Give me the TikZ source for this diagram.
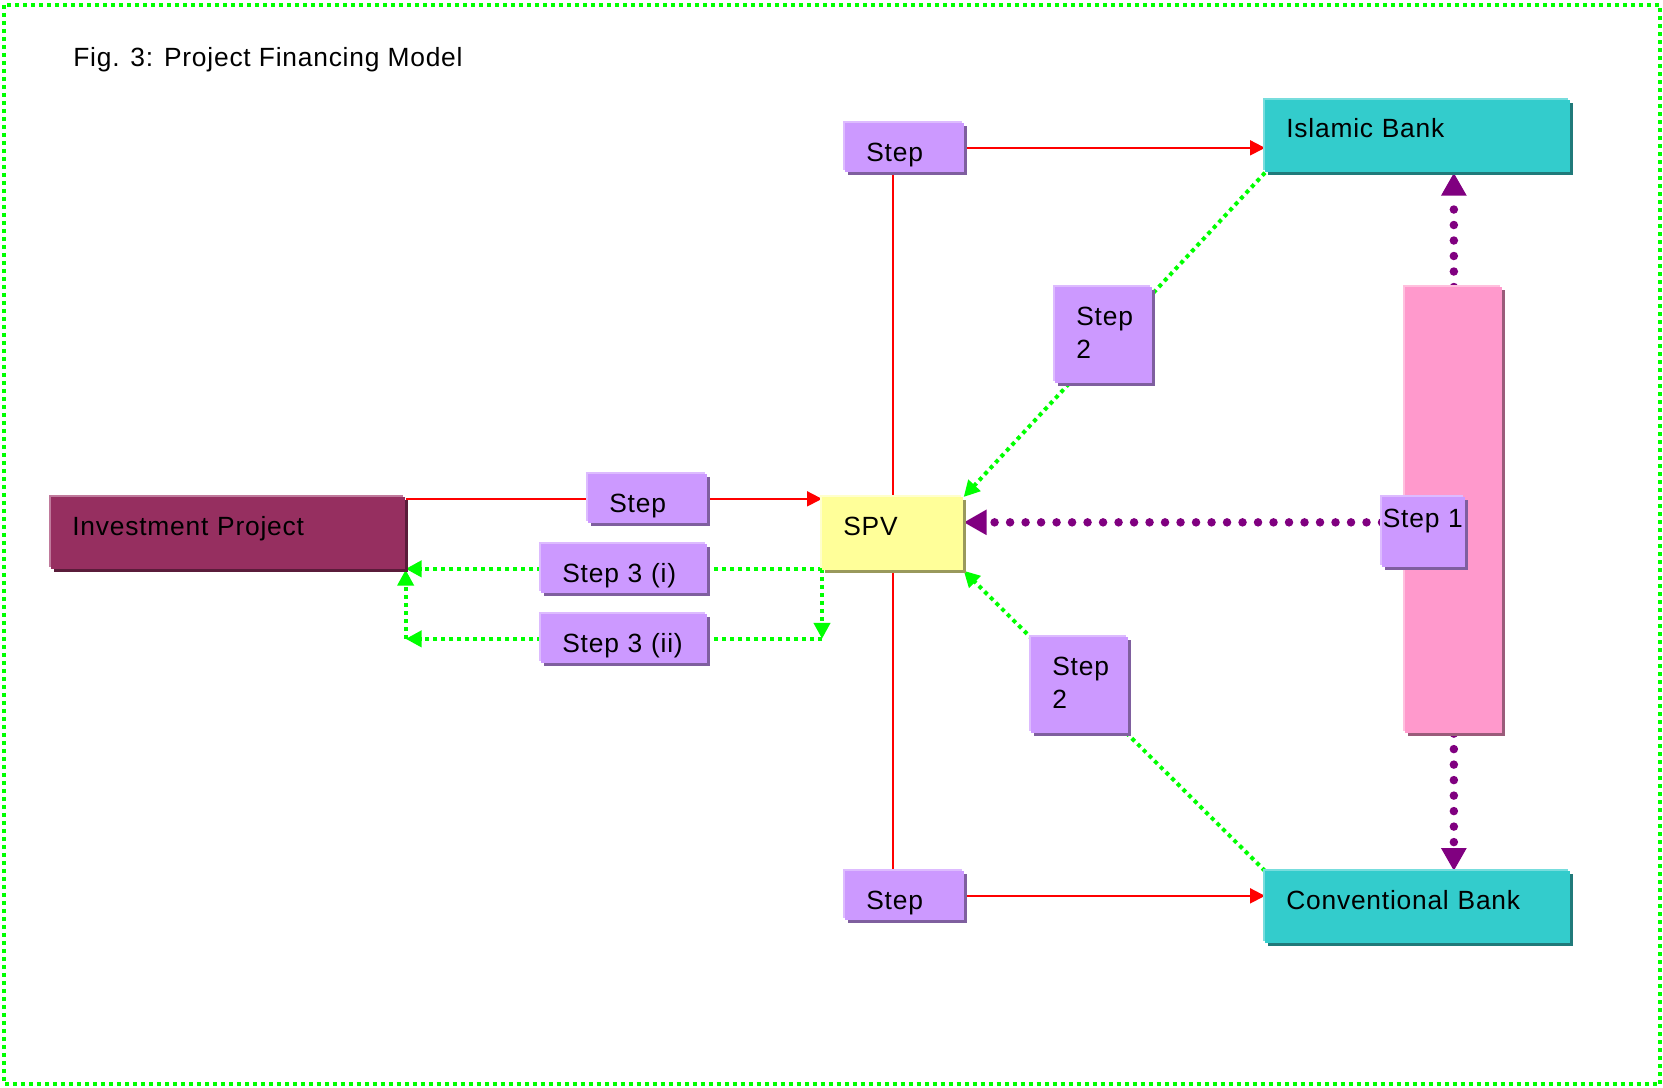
\documentclass[tikz,border=0pt]{standalone}
\usepackage{fontspec}
\setmainfont{Liberation Sans}[LetterSpace=3]
\usepackage{xcolor}
\usepackage{tikz}
\usetikzlibrary{arrows.meta, positioning, backgrounds, shadows}

\definecolor{stepfill}{HTML}{CC99FF}
\definecolor{steplight}{HTML}{DDBBFF}
\definecolor{stepdark}{HTML}{7F5F9F}
\definecolor{bankfill}{HTML}{33CCCC}
\definecolor{banklight}{HTML}{77DDDD}
\definecolor{bankdark}{HTML}{207A7A}
\definecolor{spvfill}{HTML}{FFFF99}
\definecolor{spvlight}{HTML}{FFFFCC}
\definecolor{spvdark}{HTML}{99995C}
\definecolor{projfill}{HTML}{962F60}
\definecolor{projlight}{HTML}{C07A9C}
\definecolor{projdark}{HTML}{5A1C3A}
\definecolor{barfill}{HTML}{FF99CC}
\definecolor{barlight}{HTML}{FFC0DE}
\definecolor{bardark}{HTML}{9A5C7A}
\definecolor{dotgreen}{HTML}{00FF00}
\definecolor{dotpurple}{HTML}{800080}

\begin{document}
\begin{tikzpicture}[
    x=0.02cm, y=-0.02cm,
    title/.style={anchor=base west, inner sep=0pt, font=\fontsize{15}{18.8}\selectfont},
    box/.style={rectangle, anchor=north west, inner xsep=0.42cm, inner ysep=0pt, align=left, text height=0.76cm, font=\fontsize{15}{18.8}\selectfont},
    stepbox/.style={box, fill=stepfill, general shadow={fill=steplight, shadow xshift=-0.04cm, shadow yshift=0.04cm}, drop shadow={fill=stepdark, opacity=1, shadow xshift=0.06cm, shadow yshift=-0.06cm}},
    bankbox/.style={box, fill=bankfill, general shadow={fill=banklight, shadow xshift=-0.04cm, shadow yshift=0.04cm}, drop shadow={fill=bankdark, opacity=1, shadow xshift=0.06cm, shadow yshift=-0.06cm}},
    spvbox/.style={box, fill=spvfill, general shadow={fill=spvlight, shadow xshift=-0.04cm, shadow yshift=0.04cm}, drop shadow={fill=spvdark, opacity=1, shadow xshift=0.06cm, shadow yshift=-0.06cm}},
    projbox/.style={box, fill=projfill, general shadow={fill=projlight, shadow xshift=-0.04cm, shadow yshift=0.04cm}, drop shadow={fill=projdark, opacity=1, shadow xshift=0.06cm, shadow yshift=-0.06cm}},
    pinkbar/.style={rectangle, anchor=north west, inner sep=0pt, fill=barfill, general shadow={fill=barlight, shadow xshift=-0.04cm, shadow yshift=0.04cm}, drop shadow={fill=bardark, opacity=1, shadow xshift=0.06cm, shadow yshift=-0.06cm}},
    redline/.style={draw=red, line width=0.04cm},
    redarrow/.style={redline, -{Triangle[length=0.3cm, width=0.3cm]}},
    greenline/.style={draw=dotgreen, line width=0.08cm, dash pattern=on 0.08cm off 0.08cm},
    greenarrow/.style={greenline, -{Triangle[length=0.32cm, width=0.32cm]}},
    purplearrow/.style={draw=dotpurple, line width=0.17cm, line cap=round, dash pattern=on 0pt off 0.31cm, -{Triangle[length=0.46cm, width=0.48cm]}}
]
\useasboundingbox (0,0) rectangle (1663,1088);

% Frame and title
\draw[greenline] (4,5) rectangle (1660,1084);
\node[title] (title) at (73,67) {Fig. 3: Project Financing Model};

% Banks
\node[bankbox, text width=5.26cm, text height=0.74cm, text depth=0.70cm] (islamic) at (1265,100) {Islamic Bank};
\node[bankbox, text width=5.26cm, text depth=0.68cm] (conv) at (1265,871) {Conventional Bank};

% Project and SPV
\node[projbox, text width=6.24cm, text depth=0.68cm] (invest) at (51,497) {Investment Project};
\node[spvbox, text width=1.98cm, text depth=0.70cm] (spv) at (822,497) {SPV};

% Pink bar with Step 1
\node[pinkbar, minimum width=1.94cm, minimum height=8.92cm] (bar) at (1405,287) {};
\node[stepbox, inner xsep=0.01cm, text width=1.64cm, text height=0.60cm, text depth=0.80cm] (step1) at (1382,497) {Step 1};
\coordinate (s1in) at ([yshift=0.2cm]step1.west);

% Step labels
\node[stepbox, text width=1.54cm, text depth=0.22cm] (stepTop) at (845,123) {Step};
\node[stepbox, text width=1.54cm, text depth=0.22cm] (stepMid) at (588,474) {Step};
\node[stepbox, text width=1.54cm, text depth=0.22cm] (stepBot) at (845,871) {Step};
\node[stepbox, text width=1.10cm, text depth=1.16cm] (step2up) at (1055,287) {Step\\2};
\node[stepbox, text width=1.10cm, text depth=1.16cm] (step2lo) at (1031,637) {Step\\2};
\node[stepbox, text width=2.48cm, text depth=0.22cm] (step3i) at (541,544) {Step 3 (i)};
\node[stepbox, text width=2.48cm, text depth=0.22cm] (step3ii) at (541,614) {Step 3 (ii)};

\begin{scope}[on background layer]
% Red flow
\draw[redline] (stepMid.west) -- (stepMid.west -| invest.east);
\draw[redarrow] (stepMid.east) -- (stepMid.east -| spv.west);
\draw[redline] (spv.north) -- (spv.north |- stepTop.south);
\draw[redline] (spv.south) -- (spv.south |- stepBot.north);
\draw[redarrow] (stepTop.east) -- (stepTop.east -| islamic.west);
\draw[redarrow] (stepBot.east) -- (stepBot.east -| conv.west);

% Step 2 (green dotted)
\draw[greenarrow] (islamic.south west) -- (spv.north east);
\draw[greenarrow] (conv.north west) -- (spv.south east);

% Step 3 back to the project
\draw[greenline] (step3i.east -| spv.west) -- (step3i.east);
\draw[greenarrow] (step3i.west) -- (step3i.west -| invest.east);
\draw[greenarrow] (step3i.east -| spv.west) -- (step3ii.east -| spv.west);
\draw[greenline] (step3ii.east -| spv.west) -- (step3ii.east);
\draw[greenarrow] (step3ii.west) -- (step3ii.west -| invest.east);
\draw[greenarrow] (step3ii.west -| invest.east) -- (invest.south east);

% Step 1 (purple dotted)
\draw[purplearrow] (s1in) -- (s1in -| spv.east);
\draw[purplearrow] (bar.north) -- (bar.north |- islamic.south);
\draw[purplearrow] (bar.south) -- (bar.south |- conv.north);
\end{scope}

\end{tikzpicture}
\end{document}
